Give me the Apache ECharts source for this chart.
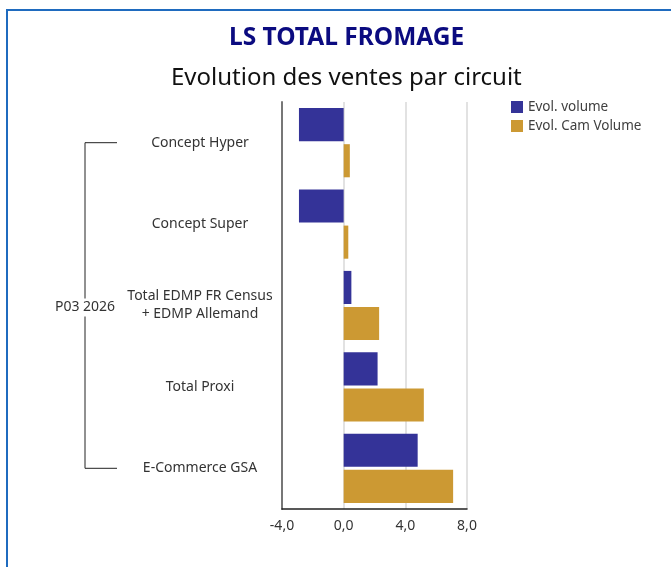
<!DOCTYPE html>
<html>
<head>
<meta charset="utf-8">
<script src="https://cdn.jsdelivr.net/npm/echarts@6/dist/echarts.min.js"></script>
<style>
  body { margin: 0; background: #fff; }
  .frame {
    position: absolute; left: 6px; top: 9px;
    width: 700px; height: 600px;
    border: 2px solid #1f6bbf;
  }
  #chart { position: absolute; left: 0; top: 0; width: 671px; height: 567px; }
</style>
</head>
<body>
<div class="frame"></div>
<div id="chart"></div>
<script>
// circuits (top to bottom)
const categories = [
  'Concept Hyper',
  'Concept Super',
  'Total EDMP FR Census\n+ EDMP Allemand',
  'Total Proxi',
  'E-Commerce GSA'
]
const groupLabel = 'P03 2026'
const seriesNames = ['Evol. volume', 'Evol. Cam Volume']
const evolVolume = [-2.9, -2.9, 0.5, 2.2, 4.8]
const evolCamVolume = [0.4, 0.3, 2.3, 5.2, 7.1]

const font = '"Noto Sans", sans-serif'
const chart = echarts.init(document.getElementById('chart'))

chart.setOption({
  animation: false,
  textStyle: { fontFamily: font },
  title: [
    {
      text: 'LS TOTAL FROMAGE',
      left: 224, top: 21,
      textStyle: { fontFamily: font, fontSize: 24.5, fontWeight: 'bold', color: '#0b0b80' }
    },
    {
      text: 'Evolution des ventes par circuit',
      left: 166, top: 61,
      textStyle: { fontFamily: font, fontSize: 24, fontWeight: 'normal', color: '#111' }
    }
  ],
  legend: {
    orient: 'vertical',
    left: 506, top: 95,
    icon: 'rect',
    itemWidth: 12, itemHeight: 12, itemGap: 5,
    textStyle: { fontFamily: font, fontSize: 13.5, color: '#404040' },
    data: seriesNames
  },
  grid: { left: 282, right: 204, top: 102, bottom: 58 },
  xAxis: {
    type: 'value',
    min: -4, max: 8, interval: 4,
    axisLine: { show: true, lineStyle: { color: '#222', width: 1.5 } },
    axisTick: { show: false },
    axisLabel: {
      color: '#333', fontSize: 14, margin: 10,
      formatter: v => v.toFixed(1).replace('.', ',')
    },
    splitLine: { show: true, lineStyle: { color: '#d9d9d9', width: 1.5 } }
  },
  yAxis: {
    type: 'category',
    inverse: true,
    data: categories,
    axisLine: { show: true, onZero: false, lineStyle: { color: '#777', width: 2 } },
    axisTick: { show: false },
    axisLabel: {
      color: '#333', fontSize: 14, align: 'center', margin: 82, lineHeight: 18
    }
  },
  series: [
    {
      name: seriesNames[0], type: 'bar', data: evolVolume,
      itemStyle: { color: '#343398' },
      barCategoryGap: '15%', barGap: '9%'
    },
    {
      name: seriesNames[1], type: 'bar', data: evolCamVolume,
      itemStyle: { color: '#cc9933' },
      barCategoryGap: '15%', barGap: '9%'
    }
  ]
})

// bracket grouping all circuits under the period label
const yTop = chart.convertToPixel({ yAxisIndex: 0 }, 0)
const yBot = chart.convertToPixel({ yAxisIndex: 0 }, categories.length - 1)
const bx = 85, bEnd = 117
const stroke = { stroke: '#222', lineWidth: 1 }
chart.setOption({
  graphic: [
    { type: 'line', shape: { x1: bx, y1: yTop, x2: bEnd, y2: yTop }, style: stroke },
    { type: 'line', shape: { x1: bx, y1: yBot, x2: bEnd, y2: yBot }, style: stroke },
    { type: 'line', shape: { x1: bx, y1: yTop, x2: bx, y2: yBot }, style: stroke },
    {
      type: 'text', x: bx, y: (yTop + yBot) / 2 + 2,
      style: {
        text: groupLabel, fill: '#333', font: '14px ' + font,
        align: 'center', verticalAlign: 'middle',
        backgroundColor: '#fff', padding: [2, 0]
      }
    }
  ]
})
</script>
</body>
</html>
